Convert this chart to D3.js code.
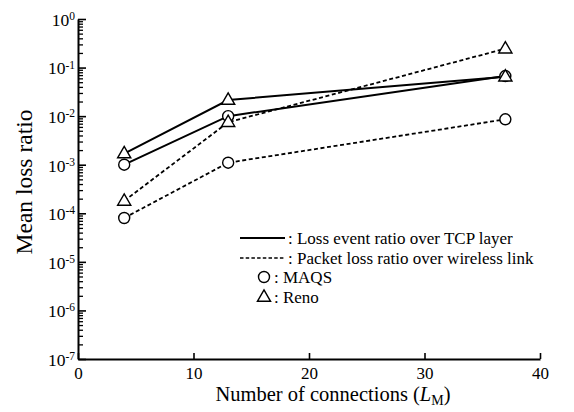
<!DOCTYPE html>
<html>
<head>
<meta charset="utf-8">
<script src="https://cdn.jsdelivr.net/npm/d3@7"></script>
<style>
  html, body { margin: 0; padding: 0; background: #fff; }
  svg { display: block; font-family: "Liberation Serif", "Times New Roman", serif; }
</style>
</head>
<body>
<svg id="chart" width="574" height="412"></svg>
<script>
// Number of connections on the x axis
const connections = [4, 13, 37];

// Loss event ratio over the TCP layer (solid lines)
const lossEventMAQS = [1.0e-3, 1.0e-2, 6.7e-2];
const lossEventReno = [1.7e-3, 2.15e-2, 6.5e-2];

// Packet loss ratio over the wireless link (dashed lines)
const packetLossMAQS = [8.0e-5, 1.1e-3, 8.6e-3];
const packetLossReno = [1.8e-4, 7.5e-3, 2.45e-1];

const xTicks = [0, 10, 20, 30, 40];
const yExponents = [-7, -6, -5, -4, -3, -2, -1, 0];

const legendItems = [
  { kind: "solid", label: ": Loss event ratio over TCP layer" },
  { kind: "dashed", label: ": Packet loss ratio over wireless link" },
  { kind: "circle", label: ": MAQS" },
  { kind: "triangle", label: ": Reno" }
];

const series = [
  { values: lossEventMAQS, dashed: false, marker: "circle" },
  { values: lossEventReno, dashed: false, marker: "triangle" },
  { values: packetLossMAQS, dashed: true, marker: "circle" },
  { values: packetLossReno, dashed: true, marker: "triangle" }
];

const svg = d3.select("#chart");
const plotLeft = 78, plotRight = 540, plotTop = 19, plotBottom = 359;

const x = d3.scaleLinear().domain([0, 40]).range([plotLeft, plotRight]);
const y = d3.scaleLog().domain([1e-7, 1]).range([plotBottom, plotTop]);

const DASH = "4,2.6";

// Minor log ticks (2..9 within each decade)
const minorValues = [];
yExponents.slice(0, -1).forEach(e => {
  for (let k = 2; k <= 9; k++) minorValues.push(k * Math.pow(10, e));
});

const minorAxis = d3.axisLeft(y).tickValues(minorValues).tickSize(-5)
  .tickSizeOuter(0).tickFormat("");
svg.append("g").attr("transform", `translate(${plotLeft},0)`).call(minorAxis)
  .call(g => g.select(".domain").remove())
  .call(g => g.selectAll("line").attr("stroke", "#000").attr("stroke-width", 1.3));

// Major ticks with power-of-ten labels
const majorAxis = d3.axisLeft(y).tickValues(yExponents.map(e => Math.pow(10, e)))
  .tickSize(-8).tickSizeOuter(0).tickPadding(3).tickFormat("");
const yAxisG = svg.append("g").attr("transform", `translate(${plotLeft},0)`).call(majorAxis);
yAxisG.select(".domain").attr("stroke", "#000").attr("stroke-width", 2);
yAxisG.selectAll("line").attr("stroke", "#000").attr("stroke-width", 1.6);
yAxisG.selectAll(".tick text").remove();
yAxisG.selectAll(".tick").each(function(d) {
  const e = Math.round(Math.log10(d));
  const t = d3.select(this).append("text")
    .attr("x", -3).attr("y", 0).attr("dy", "0.36em")
    .attr("text-anchor", "end").attr("fill", "#000")
    .style("font-size", "17.5px")
    .style("font-family", '"Liberation Serif", serif');
  t.append("tspan").text("10");
  t.append("tspan").attr("dy", "-0.5em").style("font-size", "11.5px").text(String(e));
});

// X axis
const xAxis = d3.axisBottom(x).tickValues(xTicks).tickSize(-6).tickSizeOuter(0).tickPadding(8);
const xAxisG = svg.append("g").attr("transform", `translate(0,${plotBottom})`).call(xAxis);
xAxisG.select(".domain").attr("stroke", "#000").attr("stroke-width", 2);
xAxisG.selectAll("line").attr("stroke", "#000").attr("stroke-width", 1.6);
xAxisG.selectAll("text").attr("fill", "#000")
  .style("font-size", "17px").style("font-family", '"Liberation Serif", serif');

// Axis titles
const xTitle = svg.append("text").attr("x", 333).attr("y", 401)
  .attr("text-anchor", "middle").style("font-size", "20.5px");
xTitle.append("tspan").text("Number of connections (");
xTitle.append("tspan").style("font-style", "italic").text("L");
xTitle.append("tspan").attr("dy", "4").style("font-size", "14px").text("M");
xTitle.append("tspan").attr("dy", "-4").text(")");

svg.append("text")
  .attr("transform", `translate(32,182) rotate(-90)`)
  .attr("text-anchor", "middle").style("font-size", "23.5px")
  .text("Mean loss ratio");

// Lines
const line = d3.line().x((d, i) => x(connections[i])).y(d => y(d));
series.forEach(s => {
  svg.append("path").datum(s.values)
    .attr("d", line)
    .attr("fill", "none").attr("stroke", "#000")
    .attr("stroke-width", s.dashed ? 1.8 : 2)
    .attr("stroke-dasharray", s.dashed ? DASH : null);
});

// Markers
const circleSym = d3.symbol().type(d3.symbolCircle).size(Math.PI * 5.5 * 5.5);
const triSym = d3.symbol().type(d3.symbolTriangle).size(75);
function drawMarker(g, kind, cx, cy) {
  g.append("path")
    .attr("d", kind === "circle" ? circleSym() : triSym())
    .attr("transform", `translate(${cx},${cy + (kind === "triangle" ? 0.5 : 0)})`)
    .attr("fill", "#fff").attr("stroke", "#000").attr("stroke-width", 1.4);
}
const markerG = svg.append("g");
["circle", "triangle"].forEach(kind => {
  series.filter(s => s.marker === kind).forEach(s => {
    s.values.forEach((v, i) => drawMarker(markerG, kind, x(connections[i]), y(v)));
  });
});

// Legend
const lg = svg.append("g");
const rowY = [238, 258, 277, 297];
legendItems.forEach((item, i) => {
  const cy = rowY[i];
  if (item.kind === "solid" || item.kind === "dashed") {
    lg.append("line").attr("x1", 240).attr("x2", 285).attr("y1", cy).attr("y2", cy)
      .attr("stroke", "#000").attr("stroke-width", item.kind === "solid" ? 2 : 1.6)
      .attr("stroke-dasharray", item.kind === "dashed" ? "3.5,2.2" : null);
    lg.append("text").attr("x", 288).attr("y", cy + 6)
      .style("font-size", "17px").text(item.label);
  } else {
    drawMarker(lg, item.kind, 264, cy);
    lg.append("text").attr("x", 274).attr("y", cy + 6)
      .style("font-size", "17px").text(item.label);
  }
});
</script>
</body>
</html>
